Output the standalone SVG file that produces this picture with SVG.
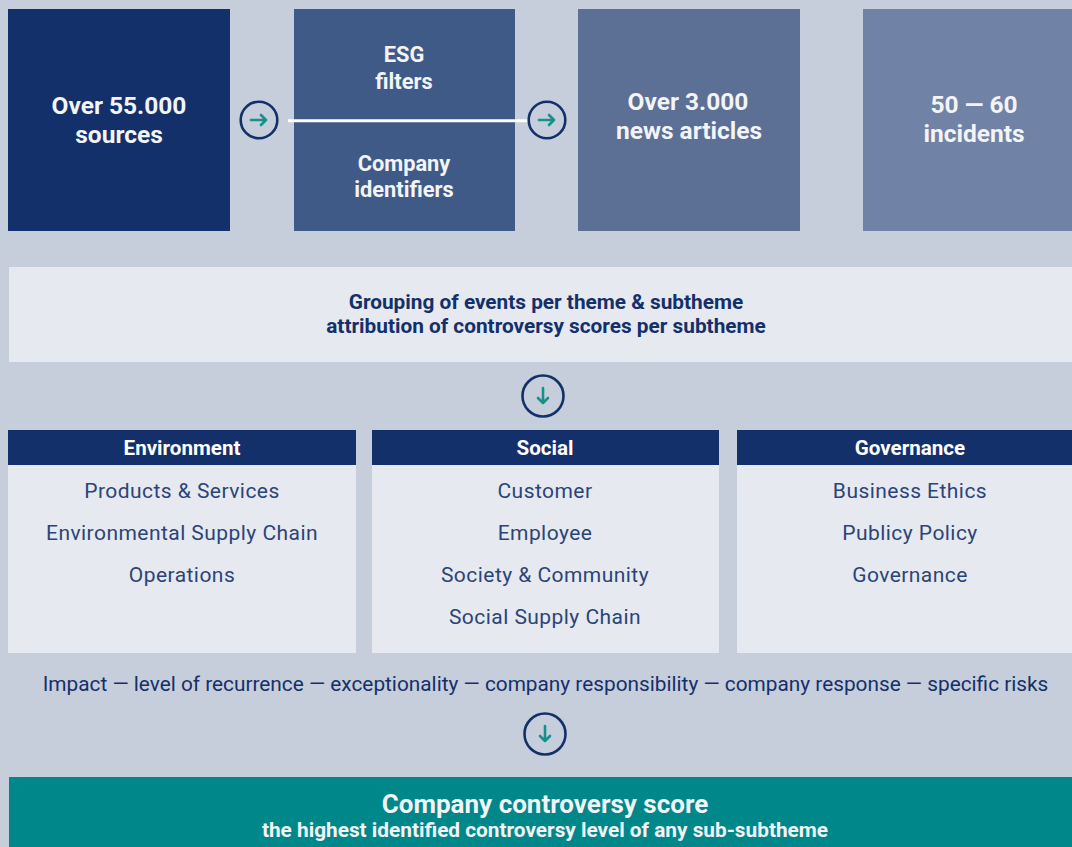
<svg xmlns="http://www.w3.org/2000/svg" width="1072" height="847" viewBox="0 0 1072 847">
<defs>
<style>
.bg{fill:#c7cedb}
.t{font-family:Roboto,"Liberation Sans",sans-serif;text-anchor:middle}
.big{font-size:24.5px;font-weight:bold;fill:#f2f4f8}
.mid{font-size:21.8px;font-weight:bold;fill:#f2f4f8}
.dark{font-size:20.8px;font-weight:bold;fill:#14306a}
.hdr{font-size:20.6px;font-weight:bold;fill:#ffffff}
.item{font-size:21px;fill:#2b4478;letter-spacing:0.45px}
.imp{font-size:20.8px;fill:#14306a}
.light{fill:#e6e9ef}
.navy{fill:#14306a}
.circ{fill:none;stroke:#14306a;stroke-width:2.6}
.arr{fill:none;stroke:#17908a;stroke-width:2.6;stroke-linecap:round;stroke-linejoin:round}
</style>
</defs>
<rect class="bg" x="0" y="0" width="1072" height="847"/>
<g id="sources">
<rect x="8" y="9" width="222" height="222" fill="#14306a"/>
<text class="t big" x="119" y="114">Over 55.000</text>
<text class="t big" x="119" y="143">sources</text>
</g>
<g id="filters">
<rect x="294" y="9" width="221" height="222" fill="#405a87"/>
<text class="t mid" x="404" y="62">ESG</text>
<text class="t mid" x="404" y="89">filters</text>
<text class="t mid" x="404" y="171">Company</text>
<text class="t mid" x="404" y="197">identifiers</text>
</g>
<g id="articles">
<rect x="578" y="9" width="222" height="222" fill="#5c6f95"/>
<text class="t big" x="688" y="109.5">Over 3.000</text>
<text class="t big" x="689" y="139">news articles</text>
</g>
<g id="incidents">
<rect x="863" y="9" width="222" height="222" fill="#7082a5"/>
<text class="t big" x="974" y="112.5">50 — 60</text>
<text class="t big" x="974" y="142">incidents</text>
</g>
<g id="grouping">
<rect class="light" x="9" y="267" width="1063" height="95"/>
<text class="t dark" x="546" y="308.5">Grouping of events per theme &amp; subtheme</text>
<text class="t dark" x="546" y="333">attribution of controversy scores per subtheme</text>
</g>
<g id="environment">
<rect class="light" x="8" y="430" width="348" height="223"/>
<rect class="navy" x="8" y="430" width="348" height="35"/>
<text class="t hdr" x="182" y="455">Environment</text>
<text class="t item" x="182" y="497.5">Products &amp; Services</text>
<text class="t item" x="182" y="539.5">Environmental Supply Chain</text>
<text class="t item" x="182" y="581.5">Operations</text>
</g>
<g id="social">
<rect class="light" x="372" y="430" width="347" height="223"/>
<rect class="navy" x="372" y="430" width="347" height="35"/>
<text class="t hdr" x="545" y="455">Social</text>
<text class="t item" x="545" y="497.5">Customer</text>
<text class="t item" x="545" y="539.5">Employee</text>
<text class="t item" x="545" y="581.5">Society &amp; Community</text>
<text class="t item" x="545" y="623.5">Social Supply Chain</text>
</g>
<g id="governance">
<rect class="light" x="737" y="430" width="335" height="223"/>
<rect class="navy" x="737" y="430" width="335" height="35"/>
<text class="t hdr" x="910" y="455">Governance</text>
<text class="t item" x="910" y="497.5">Business Ethics</text>
<text class="t item" x="910" y="539.5">Publicy Policy</text>
<text class="t item" x="910" y="581.5">Governance</text>
</g>
<g id="criteria">
<text class="t imp" x="545.5" y="691">Impact — level of recurrence — exceptionality — company responsibility — company response — specific risks</text>
</g>
<g id="score">
<rect x="9" y="777" width="1063" height="70" fill="#00878a"/>
<text class="t" x="545" y="813" style="font-size:26px;font-weight:bold;fill:#f2f4f8">Company controversy score</text>
<text class="t" x="545" y="836.5" style="font-size:20.8px;font-weight:bold;fill:#f2f4f8">the highest identified controversy level of any sub-subtheme</text>
</g>
<g id="connectors">
<line x1="288" y1="120.8" x2="530" y2="120.8" stroke="#ffffff" stroke-width="3"/>
<circle class="circ" cx="259" cy="120" r="18.3"/>
<path class="arr" d="M251 120 H266 M261 115 L266 120 L261 125"/>
<circle class="circ" cx="547" cy="120" r="18.3"/>
<path class="arr" d="M539 120 H554 M549 115 L554 120 L549 125"/>
<circle class="circ" cx="543" cy="396" r="20.5"/>
<path class="arr" d="M543 388 V403 M538 398 L543 403 L548 398"/>
<circle class="circ" cx="545" cy="734" r="20.5"/>
<path class="arr" d="M545 726 V741 M540 736 L545 741 L550 736"/>
</g>
</svg>
